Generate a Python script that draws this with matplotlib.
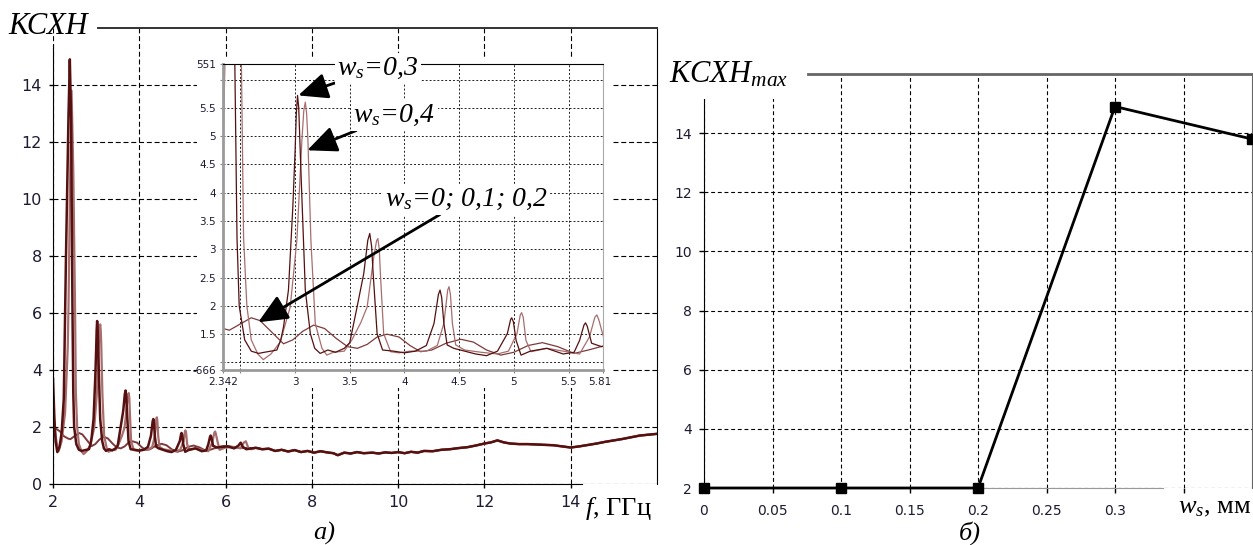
import numpy as np
import matplotlib
matplotlib.use('Agg')
import matplotlib.pyplot as plt
from matplotlib.patches import Rectangle
from matplotlib.transforms import Bbox, TransformedBbox

plt.rcParams['font.family'] = ['DejaVu Sans']
plt.rcParams['mathtext.fontset'] = 'custom'
plt.rcParams['mathtext.it'] = 'Liberation Serif:italic'
plt.rcParams['mathtext.rm'] = 'Liberation Serif'

# --- data: (f, GHz ; VSWR) ---
ws03 = [(2.00, 3.7), (2.03, 2.4), (2.06, 1.5), (2.10, 1.12), (2.15, 1.3), (2.20, 1.8),
        (2.25, 3.0), (2.30, 7.9), (2.33, 10.5), (2.36, 13.0), (2.39, 14.9), (2.42, 12.8),
        (2.45, 6.3), (2.47, 3.2), (2.49, 2.0), (2.54, 1.4), (2.60, 1.2), (2.666, 1.16),
        (2.72, 1.18), (2.78, 1.2), (2.834, 1.22), (2.87, 1.4), (2.895, 1.63), (2.94, 2.28),
        (2.98, 3.75), (3.00, 4.7), (3.012, 5.4), (3.023, 5.72), (3.034, 5.5), (3.05, 4.6),
        (3.066, 3.75), (3.094, 2.28), (3.14, 1.51), (3.18, 1.25), (3.23, 1.16), (3.30, 1.22),
        (3.37, 1.18), (3.45, 1.25), (3.50, 1.35), (3.567, 1.98), (3.628, 2.57), (3.665, 3.16),
        (3.683, 3.28), (3.70, 3.05), (3.714, 2.57), (3.75, 1.51), (3.80, 1.22), (3.90, 1.2),
        (4.00, 1.17), (4.10, 1.2), (4.20, 1.3), (4.27, 1.69), (4.31, 2.2), (4.325, 2.28),
        (4.34, 2.15), (4.36, 1.69), (4.39, 1.31), (4.45, 1.25), (4.55, 1.2), (4.65, 1.15),
        (4.75, 1.12), (4.85, 1.2), (4.94, 1.51), (4.97, 1.76), (4.98, 1.79), (4.995, 1.72),
        (5.02, 1.39), (5.065, 1.13), (5.15, 1.2), (5.30, 1.25), (5.45, 1.15), (5.55, 1.18),
        (5.60, 1.39), (5.64, 1.66), (5.654, 1.70), (5.67, 1.64), (5.71, 1.34), (5.80, 1.28),
        (5.90, 1.30), (6.05, 1.32), (6.20, 1.25), (6.30, 1.35), (6.35, 1.45), (6.40, 1.30),
        (6.48, 1.22)]
ws04 = [(2.00, 2.6), (2.05, 1.8), (2.10, 1.3), (2.13, 1.15), (2.20, 1.5), (2.28, 2.5),
        (2.342, 4.8), (2.36, 6.3), (2.40, 11.0), (2.43, 13.8), (2.47, 11.0), (2.51, 6.3),
        (2.53, 3.2), (2.56, 2.0), (2.60, 1.4), (2.66, 1.15), (2.71, 1.05), (2.78, 1.15),
        (2.865, 1.36), (2.956, 1.98), (3.017, 3.16), (3.063, 4.93), (3.08, 5.45), (3.094, 5.60),
        (3.106, 5.4), (3.118, 4.93), (3.145, 3.16), (3.185, 1.69), (3.246, 1.25), (3.29, 1.13),
        (3.35, 1.18), (3.45, 1.2), (3.52, 1.4), (3.60, 1.7), (3.659, 1.98), (3.72, 2.87),
        (3.745, 3.15), (3.757, 3.19), (3.77, 3.0), (3.78, 2.57), (3.81, 1.51), (3.873, 1.19),
        (3.95, 1.17), (4.05, 1.2), (4.20, 1.2), (4.30, 1.3), (4.36, 1.69), (4.395, 2.28),
        (4.407, 2.34), (4.42, 2.2), (4.438, 1.69), (4.468, 1.31), (4.55, 1.22), (4.70, 1.18),
        (4.85, 1.15), (4.95, 1.2), (5.028, 1.51), (5.058, 1.84), (5.07, 1.88), (5.085, 1.8),
        (5.11, 1.39), (5.156, 1.19), (5.30, 1.25), (5.45, 1.2), (5.60, 1.15), (5.69, 1.45),
        (5.74, 1.8), (5.758, 1.84), (5.775, 1.76), (5.81, 1.51), (5.86, 1.2), (6.00, 1.28),
        (6.20, 1.3), (6.35, 1.25), (6.42, 1.45), (6.47, 1.5), (6.53, 1.25), (6.60, 1.22)]
ws0_02 = [(2.00, 1.92), (2.08, 1.93), (2.16, 1.85), (2.25, 1.68), (2.342, 1.6), (2.40, 1.57),
          (2.50, 1.68), (2.60, 1.79), (2.68, 1.74), (2.78, 1.55), (2.895, 1.33), (2.98, 1.40),
          (3.07, 1.55), (3.17, 1.66), (3.27, 1.6), (3.38, 1.42), (3.48, 1.28), (3.57, 1.25),
          (3.66, 1.32), (3.75, 1.45), (3.84, 1.50), (3.95, 1.45), (4.05, 1.30), (4.147, 1.19),
          (4.25, 1.22), (4.38, 1.34), (4.514, 1.41), (4.63, 1.36), (4.75, 1.22), (4.88, 1.13),
          (5.00, 1.18), (5.13, 1.30), (5.26, 1.35), (5.40, 1.28), (5.55, 1.16), (5.68, 1.22),
          (5.814, 1.29), (5.95, 1.33), (6.10, 1.32), (6.30, 1.27), (6.60, 1.26)]
# all curves merge above ~6.7 GHz
tail = [(6.7, 1.27), (6.85, 1.22), (7.0, 1.24), (7.15, 1.16), (7.3, 1.2), (7.45, 1.14),
        (7.6, 1.19), (7.75, 1.12), (7.9, 1.16), (8.05, 1.1), (8.2, 1.15), (8.35, 1.11),
        (8.5, 1.08), (8.6, 1.01), (8.75, 1.1), (8.9, 1.07), (9.05, 1.12), (9.2, 1.08),
        (9.4, 1.1), (9.55, 1.07), (9.7, 1.11), (9.85, 1.09), (10.0, 1.12), (10.15, 1.08),
        (10.3, 1.13), (10.45, 1.1), (10.6, 1.16), (10.8, 1.15), (11.0, 1.2), (11.2, 1.22),
        (11.4, 1.26), (11.6, 1.29), (11.8, 1.35), (12.0, 1.42), (12.15, 1.46), (12.3, 1.53),
        (12.45, 1.46), (12.6, 1.42), (12.8, 1.4), (13.0, 1.4), (13.3, 1.38), (13.6, 1.36),
        (13.8, 1.32), (14.0, 1.28), (14.2, 1.32), (14.4, 1.37), (14.6, 1.42), (14.8, 1.48),
        (15.0, 1.53), (15.2, 1.58), (15.4, 1.64), (15.6, 1.7), (15.8, 1.73), (16.0, 1.76)]

# panel b
ws_mm = [0, 0.1, 0.2, 0.3, 0.4]
vswr_max = [2.0, 2.0, 2.0, 14.9, 13.8]

W, H = 1253, 545
tick_col = '#1b1b33'
serif = 'Liberation Serif'

series = [(ws0_02, '#7d3a3a', 1.4), (ws04, '#a86e6e', 1.6), (ws03, '#561010', 1.8)]

fig = plt.figure(figsize=(W / 100, H / 100), dpi=100)

# ---------- panel a ----------
ax = fig.add_axes([53 / W, (H - 484) / H, 604 / W, 456 / H])
for pts, col, lw in series:
    f, v = np.array(pts + tail).T
    ax.plot(f, v, color=col, lw=lw)
ax.set_xlim(2, 16)
ax.set_ylim(0, 16)
ax.set_xticks(range(2, 16, 2))
ax.set_yticks(range(0, 16, 2))
ax.grid(True, color='k', lw=0.8, ls=(0, (4.5, 2.5)))
ax.tick_params(direction='out', length=3, width=1, labelsize=11.5, labelcolor=tick_col, pad=5)
ax.spines['left'].set_bounds(0, 15.4)
ax.spines['top'].set_bounds(3.05, 16)
ax.spines['bottom'].set_bounds(2, 14.25)
ax.spines['top'].set_color('#333333')
ax.spines['top'].set_linewidth(1.4)

# white area behind the inset
fig.add_artist(Rectangle((197 / W, (H - 388) / H), 415 / W, 330 / H, transform=fig.transFigure,
                         facecolor='white', edgecolor='none', zorder=1))

axin = fig.add_axes([223 / W, (H - 370) / H, 380 / W, 306 / H], zorder=2)
for pts, col, lw in series:
    f, v = np.array(pts).T
    axin.plot(f, v, color=col, lw=0.9)
y0, y1 = 0.86666, 6.27551
axin.set_xlim(2.342, 5.814)
axin.set_ylim(y0, y1)
axin.set_yticks([y0, 1.0, 1.5, 2, 2.5, 3, 3.5, 4, 4.5, 5, 5.5, 6.0, y1])
axin.set_yticklabels(['-666', '', '1.5', '2', '2.5', '3', '3.5', '4', '4.5', '5', '5.5', '', '551'])
axin.set_xticks([2.342, 2.5, 3, 3.5, 4, 4.5, 5, 5.5, 5.814])
axin.set_xticklabels(['2.342', '', '3', '3.5', '4', '4.5', '5', '5.5', '5.814'])
axin.grid(True, color='#222222', lw=0.7, ls=(0, (2, 2)))
axin.tick_params(labelsize=7.5, length=2, color='#888888', labelcolor=tick_col, pad=3)
for side in ['left', 'bottom']:
    axin.spines[side].set_color('#9a9a9a')
    axin.spines[side].set_linewidth(2)
axin.spines['right'].set_color('#aaaaaa')
axin.spines['right'].set_linewidth(0.8)
clip = TransformedBbox(Bbox.from_extents(0, 0, 612 / W, 1), fig.transFigure)
lab = axin.get_xticklabels()[-1]
lab.set_clip_box(clip)
lab.set_clip_on(True)

arrow = dict(arrowstyle='-|>,head_length=0.9,head_width=0.4', color='k', lw=2,
             shrinkA=0, shrinkB=0)
box = dict(boxstyle='square,pad=0.1', fc='white', ec='none')
notes = [(r'$w_s$=0,3', (3.03, 5.72), (3.387, 6.20)),
         (r'$w_s$=0,4', (3.112, 4.75), (3.534, 5.37)),
         (r'$w_s$=0; 0,1; 0,2', (2.663, 1.71), (3.818, 3.885))]
for txt, xy, xyt in notes:
    axin.annotate(txt, xy=xy, xytext=xyt, ha='left', va='center', fontsize=20,
                  fontfamily=serif, style='italic', bbox=box, arrowprops=arrow,
                  annotation_clip=False, zorder=5)

# ---------- panel b ----------
axr = fig.add_axes([704 / W, (H - 488) / H, 548 / W, 414 / H])
axr.plot(ws_mm, vswr_max, color='k', lw=2, marker='s', ms=7, clip_on=False, zorder=3)
axr.set_xlim(0, 0.4)
axr.set_ylim(2, 16)
axr.set_xticks([0, 0.05, 0.1, 0.15, 0.2, 0.25, 0.3, 0.35])
axr.set_xticklabels(['0', '0.05', '0.1', '0.15', '0.2', '0.25', '0.3', ''])
axr.set_yticks(range(2, 16, 2))
axr.grid(True, color='k', lw=0.8, ls=(0, (3.5, 2.5)))
axr.tick_params(direction='out', length=3.5, width=1, labelsize=10, labelcolor=tick_col, pad=5)
axr.tick_params(axis='x', pad=8)
axr.spines['left'].set_bounds(2, 15.3)
axr.spines['top'].set_bounds(0.076, 0.4)
axr.spines['bottom'].set_bounds(0, 0.335)
axr.spines['top'].set_color('#666666')
axr.spines['top'].set_linewidth(2)
axr.spines['right'].set_color('#666666')
axr.spines['bottom'].set_color('#999999')

# ---------- labels ----------
fig.text(8 / W, 1 - 27 / H, 'КСХН', fontfamily=serif, style='italic', fontsize=22,
         ha='left', va='center')
fig.text(585 / W, 1 - 508 / H, r'$f$, ГГц', fontfamily=serif, fontsize=19,
         ha='left', va='center')
fig.text(324 / W, 1 - 533 / H, 'а)', fontfamily=serif, style='italic', fontsize=19,
         ha='center', va='center')
fig.text(669 / W, 1 - 75 / H, r'КСХН$_{max}$', fontfamily=serif, style='italic', fontsize=22,
         ha='left', va='center', bbox=dict(boxstyle='square,pad=0.3', fc='white', ec='none'))
fig.text(1251 / W, 1 - 508 / H, r'$w_s$, мм', fontfamily=serif, fontsize=19,
         ha='right', va='center')
fig.text(970 / W, 1 - 533 / H, 'б)', fontfamily=serif, style='italic', fontsize=19,
         ha='center', va='center')

fig.savefig('out.png', dpi=100)
